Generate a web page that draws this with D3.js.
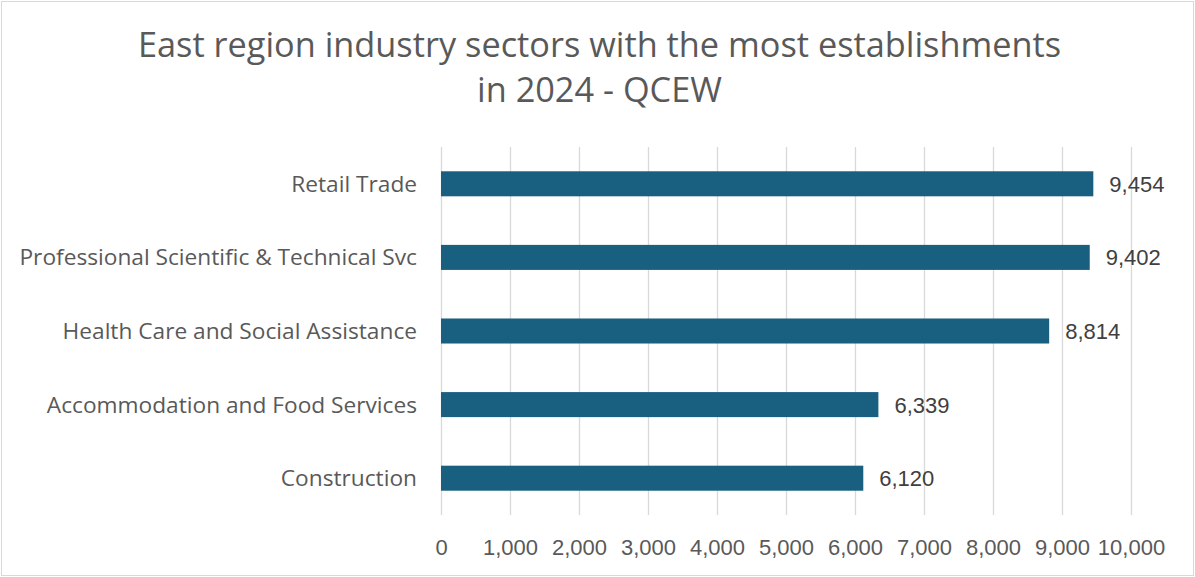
<!DOCTYPE html>
<html>
<head>
<meta charset="utf-8">
<script src="https://cdn.jsdelivr.net/npm/d3@7"></script>
<style>
  html, body { margin: 0; padding: 0; background: #fff; }
  svg { display: block; }
</style>
</head>
<body>
<svg id="chart" width="1195" height="577"></svg>
<script>
// Sectors, top to bottom
const categories = [
  "Retail Trade",
  "Professional Scientific & Technical Svc",
  "Health Care and Social Assistance",
  "Accommodation and Food Services",
  "Construction"
];
// Number of establishments per sector
const establishments = [9454, 9402, 8814, 6339, 6120];
// Horizontal axis ticks
const tickValues = [0, 1000, 2000, 3000, 4000, 5000, 6000, 7000, 8000, 9000, 10000];
const titleLines = ["East region industry sectors with the most establishments", "in 2024 - QCEW"];

const W = 1195, H = 577;
const plot = { left: 441, right: 1131, top: 147, bottom: 515 };
const textColor = "#595959";
const barColor = "#185F80";
const gridColor = "#d9d9d9";
const labelFont = "'Open Sans', 'Noto Sans', sans-serif";
const numFont = "'Liberation Sans', Arial, sans-serif";

const svg = d3.select("#chart");

// chart border
svg.append("rect")
  .attr("x", 1.5).attr("y", 1.5)
  .attr("width", W - 3).attr("height", H - 3)
  .attr("fill", "#fff")
  .attr("stroke", "#d9d9d9")
  .attr("stroke-width", 1);

const x = d3.scaleLinear().domain([0, 10000]).range([plot.left, plot.right]);
const y = d3.scaleBand().domain(categories).range([plot.top, plot.bottom])
  .paddingInner(0.66).paddingOuter(0.33);

// title
const title = svg.append("text")
  .attr("text-anchor", "middle")
  .attr("fill", textColor)
  .attr("font-family", labelFont)
  .attr("font-size", 34.3);
titleLines.forEach((t, i) => {
  title.append("tspan").attr("x", W / 2 + 2).attr("y", 57 + i * 45).text(t);
});

// vertical gridlines
svg.append("g")
  .selectAll("line")
  .data(tickValues)
  .join("line")
  .attr("x1", d => Math.round(x(d)) + 0.5)
  .attr("x2", d => Math.round(x(d)) + 0.5)
  .attr("y1", plot.top)
  .attr("y2", plot.bottom)
  .attr("stroke", gridColor)
  .attr("stroke-width", 1.3);

// x axis tick labels
const xAxis = d3.axisBottom(x)
  .tickValues(tickValues)
  .tickFormat(d3.format(","))
  .tickSize(0)
  .tickPadding(0);
const gx = svg.append("g")
  .attr("transform", `translate(0,${plot.bottom})`)
  .call(xAxis);
gx.select(".domain").remove();
gx.selectAll("text")
  .attr("y", 40)
  .attr("dy", 0)
  .attr("fill", textColor)
  .attr("font-family", numFont)
  .attr("font-size", 22);

// category labels
const yAxis = d3.axisLeft(y).tickSize(0).tickPadding(0);
const gy = svg.append("g")
  .attr("transform", `translate(${plot.left - 24},0)`)
  .call(yAxis);
gy.select(".domain").remove();
gy.selectAll("text")
  .attr("fill", textColor)
  .attr("font-family", labelFont)
  .attr("font-size", 22.7)
  .attr("dy", "0.35em");

// bars
const data = categories.map((c, i) => ({ c, v: establishments[i] }));
svg.append("g")
  .selectAll("rect")
  .data(data)
  .join("rect")
  .attr("x", x(0))
  .attr("y", d => y(d.c))
  .attr("width", d => x(d.v) - x(0))
  .attr("height", y.bandwidth())
  .attr("fill", barColor);

// value labels
svg.append("g")
  .selectAll("text")
  .data(data)
  .join("text")
  .attr("x", d => x(d.v) + 16)
  .attr("y", d => y(d.c) + y.bandwidth() / 2)
  .attr("dy", "0.36em")
  .attr("fill", "#404040")
  .attr("font-family", numFont)
  .attr("font-size", 22)
  .text(d => d3.format(",")(d.v));
</script>
</body>
</html>
